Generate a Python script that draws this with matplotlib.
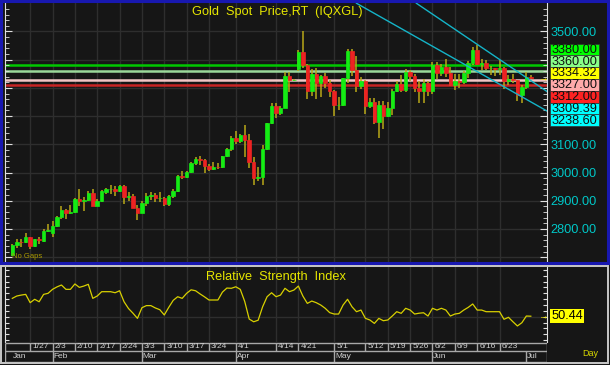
import numpy as np
import pandas as pd
import matplotlib
matplotlib.use('Agg')
import matplotlib.pyplot as plt
from matplotlib.patches import Rectangle
from matplotlib.transforms import blended_transform_factory

plt.rcParams['font.family'] = ['Liberation Sans', 'DejaVu Sans']

# trading days shown on the chart (no gaps)
dates = pd.bdate_range('2025-01-21', '2025-07-02')
day_labels = [f'{d.month}/{d.day}' for d in dates]

opens = [2708, 2745, 2755, 2753, 2770, 2740, 2763, 2757, 2794, 2785,
         2812, 2842, 2866, 2856, 2861, 2908, 2898, 2904, 2929, 2883,
         2898, 2932, 2940, 2941, 2936, 2952, 2915, 2917, 2876, 2858,
         2893, 2918, 2920, 2910, 2911, 2889, 2916, 2934, 2989, 2984,
         3001, 3035, 3048, 3044, 3022, 3011, 3020, 3019, 3058, 3085,
         3124, 3113, 3134, 3114, 3037, 2982, 2983, 3082, 3175, 3237,
         3211, 3229, 3343, 3327, 3368, 3428, 3381, 3288, 3349, 3319,
         3343, 3316, 3288, 3239, 3241, 3334, 3431, 3365, 3306, 3325,
         3236, 3250, 3178, 3240, 3202, 3230, 3290, 3314, 3294, 3357,
         3342, 3300, 3288, 3318, 3289, 3381, 3353, 3373, 3352, 3310,
         3325, 3322, 3354, 3387, 3433, 3385, 3389, 3369, 3370, 3368,
         3369, 3323, 3332, 3328, 3274, 3303, 3338]
highs = [2746, 2763, 2763, 2786, 2772, 2765, 2770, 2799, 2817, 2830,
         2845, 2882, 2870, 2886, 2911, 2942, 2915, 2935, 2940, 2905,
         2938, 2947, 2955, 2953, 2956, 2956, 2930, 2925, 2885, 2898,
         2928, 2930, 2926, 2930, 2915, 2922, 2940, 2990, 3005, 3004,
         3038, 3055, 3057, 3047, 3031, 3036, 3033, 3060, 3087, 3128,
         3149, 3136, 3168, 3136, 3055, 3020, 3099, 3176, 3245, 3245,
         3237, 3358, 3357, 3330, 3436, 3500, 3386, 3367, 3371, 3345,
         3353, 3328, 3292, 3269, 3336, 3437, 3437, 3414, 3340, 3328,
         3265, 3263, 3252, 3252, 3249, 3295, 3325, 3345, 3366, 3364,
         3350, 3326, 3330, 3325, 3392, 3392, 3385, 3403, 3375, 3348,
         3350, 3360, 3394, 3446, 3452, 3404, 3398, 3376, 3372, 3398,
         3373, 3347, 3350, 3329, 3309, 3358, 3347]
lows = [2703, 2733, 2735, 2752, 2730, 2736, 2746, 2755, 2790, 2772,
        2808, 2835, 2835, 2852, 2858, 2880, 2865, 2898, 2880, 2880,
        2894, 2925, 2925, 2918, 2930, 2890, 2900, 2875, 2833, 2855,
        2883, 2904, 2894, 2896, 2880, 2880, 2910, 2932, 2978, 2982,
        2998, 3028, 3028, 2999, 3005, 3010, 3012, 3015, 3055, 3076,
        3100, 3105, 3054, 3015, 2956, 2970, 2957, 3080, 3172, 3194,
        3205, 3228, 3284, 3324, 3360, 3370, 3260, 3272, 3260, 3268,
        3300, 3268, 3202, 3221, 3237, 3318, 3343, 3286, 3297, 3208,
        3228, 3171, 3121, 3154, 3196, 3205, 3285, 3285, 3287, 3325,
        3285, 3245, 3245, 3271, 3279, 3333, 3343, 3338, 3307, 3293,
        3300, 3315, 3335, 3380, 3383, 3365, 3362, 3347, 3341, 3347,
        3295, 3312, 3317, 3255, 3247, 3296, 3330]
closes = [2745, 2755, 2753, 2771, 2740, 2763, 2760, 2794, 2798, 2812,
          2842, 2866, 2856, 2861, 2908, 2898, 2904, 2929, 2883, 2898,
          2935, 2940, 2941, 2936, 2952, 2915, 2917, 2876, 2858, 2893,
          2918, 2920, 2910, 2911, 2889, 2916, 2934, 2989, 2984, 3001,
          3035, 3048, 3044, 3022, 3011, 3020, 3019, 3058, 3085, 3124,
          3113, 3134, 3114, 3037, 2982, 2983, 3082, 3175, 3237, 3211,
          3229, 3343, 3327, 3327, 3428, 3381, 3288, 3349, 3319, 3343,
          3316, 3288, 3239, 3241, 3334, 3431, 3365, 3306, 3325, 3236,
          3250, 3178, 3240, 3202, 3230, 3290, 3314, 3294, 3357, 3342,
          3300, 3288, 3318, 3289, 3381, 3353, 3373, 3352, 3310, 3325,
          3322, 3354, 3387, 3433, 3385, 3389, 3369, 3370, 3368, 3369,
          3323, 3332, 3328, 3274, 3303, 3338, 3334.32]

rsi = [65.7, 67.7, 68.5, 69.1, 62.0, 64.9, 62.8, 69.1, 70.0, 73.4,
       75.5, 77.1, 73.4, 73.4, 78.0, 75.1, 76.2, 77.7, 65.7, 67.7,
       71.4, 71.4, 71.4, 70.5, 72.2, 62.8, 57.0, 53.0, 48.6, 57.7,
       59.5, 59.5, 57.5, 56.0, 51.5, 58.0, 64.0, 67.1, 65.7, 70.0,
       73.0, 72.2, 69.5, 67.0, 64.3, 64.3, 64.3, 71.0, 74.5, 74.3,
       75.6, 73.4, 63.0, 48.0, 45.7, 47.0, 58.5, 67.1, 70.5, 67.1,
       68.5, 74.3, 71.4, 72.8, 76.2, 67.7, 61.4, 63.4, 62.0, 60.0,
       57.2, 53.5, 52.3, 52.3, 60.0, 64.9, 58.5, 54.3, 55.7, 48.6,
       47.2, 44.3, 48.6, 46.6, 47.2, 50.6, 54.3, 52.9, 57.2, 55.7,
       52.3, 53.0, 53.4, 50.6, 57.2, 55.7, 57.2, 55.7, 50.6, 52.3,
       52.9, 55.7, 58.0, 60.9, 55.7, 55.7, 54.3, 54.3, 54.3, 54.3,
       47.8, 49.5, 45.7, 42.1, 44.9, 50.6, 50.44]

level_values = [3380.00, 3360.00, 3327.00, 3312.00]
level_colors = ['#00c800', '#9ad89a', '#f2c6c6', '#c82424']
tag_values = [3380.00, 3360.00, 3334.32, 3327.00, 3312.00, 3309.39, 3238.60]
tag_colors = ['#00ff00', '#88ff88', '#ffff00', '#ffaaaa', '#ff2222', '#00ffff', '#00ffff']
axis_prices = [2800, 2900, 3000, 3100, 3500]
week_labels = ['1/27', '2/3', '2/10', '2/17', '2/24', '3/3', '3/10', '3/17', '3/24',
               '4/1', '4/14', '4/21', '5/1', '5/12', '5/19', '5/26', '6/2', '6/9',
               '6/16', '6/23']
# trend lines as (bar position, price) pairs
trend_lines = [[(77.0, 3600), (120.3, 3212)],
               [(90.4, 3600), (120.3, 3280)]]

BG = '#161616'
GRID = '#2e2e2e'
W, H = 610, 365


def box(x0, y0, x1, y1):
    return [x0 / W, 1 - y1 / H, (x1 - x0) / W, (y1 - y0) / H]


def px_to_idx(px):
    return (px - 12.3) / 4.47


x_left, x_right = px_to_idx(5), px_to_idx(547)
idx = np.arange(len(closes))
week_idx = [day_labels.index(w) for w in week_labels]
month_idx = [i for i in range(len(dates)) if i == 0 or dates[i].month != dates[i - 1].month]

fig = plt.figure(figsize=(6.1, 3.65), dpi=100, facecolor=BG)

# ---- price panel
ax = fig.add_axes(box(5, 3, 547, 262), facecolor=BG)
ax.set_xlim(x_left, x_right)
ax.set_ylim(2683, 3601)
for i in week_idx:
    ax.axvline(i, color=GRID, lw=1, zorder=0)
for p in range(2700, 3600, 100):
    ax.axhline(p, color=GRID, lw=1, zorder=0)

o, h, l, c = map(np.array, (opens, highs, lows, closes))
up = c >= o
ax.vlines(idx, l, h, color='#b8a818', lw=1.1, zorder=2)
ax.bar(idx, c - o, bottom=o, width=0.78,
       color=np.where(up, '#14ec14', '#ee2222'),
       edgecolor=np.where(up, '#14ec14', '#ee2222'), lw=0.5, zorder=3)

for v, col in zip(level_values, level_colors):
    ax.axhline(v, color=col, lw=1.8, zorder=1)
for line in trend_lines:
    xs, ys = zip(*line)
    ax.plot(xs, ys, color='#14b4c8', lw=1, zorder=4)

ax.text(x_right - 1.9, closes[-1], '\u2192', color='#e8e000', fontsize=7,
        va='center', ha='left', zorder=5)

ax.set_yticks(range(2700, 3600, 100))
ax.set_yticklabels([f'{p:.2f}' if p in axis_prices else '' for p in range(2700, 3600, 100)])
ax.set_yticks(range(2700, 3600, 20), minor=True)
ax.yaxis.tick_right()
ax.tick_params(axis='y', which='both', left=True, right=True, direction='in',
               color='#e0e0e0', labelcolor='#00c8c8', labelsize=9.2, pad=2.5)
ax.tick_params(axis='y', which='major', length=5)
ax.tick_params(axis='y', which='minor', length=3)
ax.tick_params(axis='x', bottom=False, labelbottom=False)
for s in ('top', 'bottom'):
    ax.spines[s].set_visible(False)
for s in ('left', 'right'):
    ax.spines[s].set_color('#e0e0e0')

ax.text(0.502, 0.965, 'Gold  Spot  Price,RT  (IQXGL)', transform=ax.transAxes,
        ha='center', va='center', color='#e6e600', fontsize=9.2)
ax.text(0.013, 0.008, 'No Gaps', transform=ax.transAxes, ha='left', va='bottom',
        color='#a89800', fontsize=5.5, zorder=6)

# ---- RSI panel
ax_r = fig.add_axes(box(5, 267, 547, 342), facecolor=BG)
ax_r.set_xlim(x_left, x_right)
ax_r.set_ylim(28.4, 92.5)
for i in week_idx:
    ax_r.axvline(i, color=GRID, lw=1, zorder=0)
ax_r.axhline(50, color=GRID, lw=1, zorder=0)
ax_r.plot(idx, rsi, color='#d8d000', lw=0.9)
ax_r.set_yticks(range(30, 95, 5))
ax_r.tick_params(axis='y', left=True, right=True, labelleft=False, direction='in',
                 length=3, color='#e0e0e0')
ax_r.tick_params(axis='x', bottom=False, labelbottom=False)
for s in ('top', 'bottom'):
    ax_r.spines[s].set_visible(False)
for s in ('left', 'right'):
    ax_r.spines[s].set_color('#e0e0e0')
ax_r.text(0.5, 0.867, 'Relative  Strength  Index', transform=ax_r.transAxes,
          ha='center', va='center', color='#e6e600', fontsize=9.2)
tr = blended_transform_factory(ax_r.transAxes, ax_r.transData)
ax_r.text(1.008, rsi[-1], f'{rsi[-1]:.2f}', transform=tr, ha='left', va='center',
          color='black', fontsize=9.2,
          bbox=dict(facecolor='#ffff00', edgecolor='none', pad=0.8))
ax_r.text(x_right - 1.9, rsi[-1], '\u2192', color='#e8e000', fontsize=7,
          va='center', ha='left')

# ---- date rows
ax_d = fig.add_axes(box(5, 342, 547, 362), facecolor=BG)
ax_d.set_xlim(x_left, x_right)
ax_d.set_ylim(0, 20)
ax_d.axis('off')
edge = '#a8a8a8'
ax_d.hlines([19, 11, 0.5], x_left, x_right, color=edge, lw=1)
ax_d.vlines(week_idx, 11, 19, color=edge, lw=1)
ax_d.vlines(month_idx[1:], 0.5, 11, color=edge, lw=1)
ax_d.vlines([x_left + 0.1, x_right - 0.1], 0.5, 19, color=edge, lw=1)
for i, lab in zip(week_idx, week_labels):
    ax_d.text(i + 0.45, 15, lab, fontsize=6, color='#d0d0d0', va='center', ha='left')
for i in month_idx:
    ax_d.text(i + 0.2, 5.5, dates[i].strftime('%b'), fontsize=6, color='#d0d0d0',
              va='center', ha='left')

# ---- frames and right-hand price tags
ov = fig.add_axes([0, 0, 1, 1], zorder=10)
ov.set_xlim(0, W)
ov.set_ylim(H, 0)
ov.axis('off')
ov.patch.set_alpha(0)
ov.add_patch(Rectangle((1.2, 1.2), 606.5, 261.5, fill=False, edgecolor='#1818b0', lw=2.2))
ov.add_patch(Rectangle((1.2, 266), 606.5, 96.5, fill=False, edgecolor='#c8c8c8', lw=1.4))
for k, (v, col) in enumerate(zip(tag_values, tag_colors)):
    yc = 49.5 + k * 11.8
    ov.add_patch(Rectangle((550, yc - 5.9), 49, 11.8, facecolor=col, edgecolor='#303030', lw=0.5))
    ov.text(574.5, yc + 0.3, f'{v:.2f}', ha='center', va='center', color='#101010', fontsize=9.2)
ov.text(590, 353, 'Day', ha='center', va='center', color='#d8d800', fontsize=6.5)

fig.savefig('out.png', dpi=100, facecolor=BG)
